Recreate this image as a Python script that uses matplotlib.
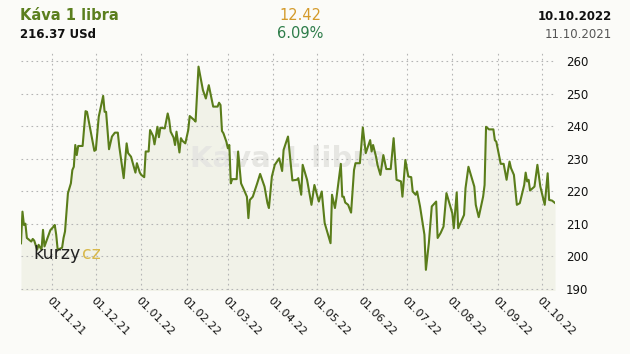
import pandas as pd
import numpy as np
import matplotlib.pyplot as plt
import matplotlib.dates as mdates

# Denní ceny kávy (USd za libru), dny od 11.10.2021
start = pd.Timestamp('2021-10-11')
day = [0, 1, 2, 3, 4, 7, 8, 9, 11, 12, 14, 15, 16, 20, 22, 23, 24, 25, 28, 29,
       30, 32, 34, 35, 36, 37, 38, 39, 42, 44, 45, 50, 51, 53, 56, 57, 58, 60, 62, 64,
       66, 67, 70, 72, 73, 75, 78, 79, 81, 82, 84, 85, 87, 88, 90, 91, 93, 94, 95, 98,
       100, 101, 102, 104, 105, 106, 108, 109, 110, 112, 114, 115, 118, 119, 121, 123, 124, 126, 128, 131,
       134, 135, 136, 137, 138, 140, 141, 142, 143, 144, 147, 148, 150, 152, 154, 155, 156, 158, 161, 163,
       164, 166, 168, 169, 171, 173, 176, 178, 179, 182, 185, 188, 189, 191, 192, 195, 198, 200, 203, 205,
       207, 211, 212, 214, 215, 218, 219, 220, 221, 223, 225, 227, 228, 231, 233, 235, 238, 239, 240, 242,
       243, 245, 247, 249, 252, 254, 256, 259, 260, 262, 264, 266, 267, 269, 270, 272, 275, 276, 278, 280,
       283, 284, 286, 288, 290, 292, 294, 295, 297, 298, 302, 303, 305, 309, 310, 312, 315, 316, 317, 319,
       322, 323, 324, 327, 329, 331, 332, 333, 334, 336, 338, 340, 343, 344, 345, 346, 347, 350, 352, 354,
       357, 359, 360, 362, 364]
price = [203.95, 213.7, 209.6, 210.0, 205.6, 204.5, 205.3, 204.8, 202.0, 203.5, 202.0, 208.1, 203.0, 208.0, 209.0, 209.6, 206.6, 202.0, 202.6, 205.6,
         207.6, 219.4, 222.4, 226.5, 227.5, 234.2, 231.1, 233.9, 233.9, 244.6, 244.4, 232.4, 232.7, 242.9, 249.3, 244.4, 244.4, 232.9, 236.8, 238.0,
         238.0, 233.7, 224.0, 234.7, 231.7, 230.6, 225.7, 228.6, 225.7, 225.0, 224.3, 232.2, 232.2, 238.8, 237.0, 234.4, 239.8, 236.6, 239.5, 239.3,
         243.9, 241.9, 238.3, 236.5, 234.2, 238.3, 231.9, 236.3, 235.5, 234.7, 238.8, 243.1, 241.9, 241.4, 258.3, 253.6, 251.1, 248.5, 252.6, 246.0,
         246.0, 247.2, 246.5, 238.5, 237.8, 235.2, 233.2, 234.2, 222.4, 223.7, 223.7, 232.2, 222.4, 220.4, 218.3, 211.7, 217.3, 218.3, 222.4, 225.3,
         224.0, 221.4, 216.3, 214.8, 224.5, 228.1, 230.1, 226.2, 232.7, 236.8, 223.3, 223.5, 224.0, 218.9, 228.1, 223.5, 215.8, 221.9, 216.8, 219.9,
         210.2, 204.0, 218.9, 214.8, 217.8, 228.4, 218.3, 218.3, 216.5, 215.8, 213.4, 226.5, 228.6, 228.6, 239.6, 231.7, 235.7, 232.2, 234.2, 230.6,
         228.1, 225.0, 231.1, 226.8, 226.8, 236.3, 223.5, 223.0, 218.3, 229.6, 224.5, 224.3, 219.9, 218.9, 219.9, 215.3, 206.6, 195.8, 204.0, 215.3,
         216.8, 205.6, 207.1, 209.1, 219.4, 216.3, 213.2, 208.6, 219.6, 208.6, 212.7, 220.9, 227.5, 221.4, 215.8, 212.0, 218.3, 221.9, 239.8, 239.0,
         239.0, 235.7, 235.2, 228.4, 228.4, 223.5, 226.5, 229.1, 227.1, 225.0, 215.8, 216.3, 221.9, 225.7, 223.0, 223.5, 220.2, 221.4, 228.1, 221.4,
         215.8, 225.5, 217.3, 217.1, 216.37]

tick_dates = ['2021-11-01', '2021-12-01', '2022-01-01', '2022-02-01', '2022-03-01', '2022-04-01',
              '2022-05-01', '2022-06-01', '2022-07-01', '2022-08-01', '2022-09-01', '2022-10-01']
y_ticks = [190, 200, 210, 220, 230, 240, 250, 260]

dates = start + pd.to_timedelta(day, unit='D')

bg = '#fbfbf8'
fig = plt.figure(figsize=(6.3, 3.54), dpi=100, facecolor=bg)
ax = fig.add_axes([21 / 630, 1 - 290 / 354, 534 / 630, 238 / 354])
ax.set_facecolor(bg)

ax.fill_between(dates, price, 185, color='#f1f2e8', lw=0)
ax.plot(dates, price, color='#5a7d1a', lw=1.5, zorder=3)

ax.set_xlim(start, pd.Timestamp('2022-10-10'))
ax.set_ylim(189.6, 262.8)

ax.set_xticks(pd.to_datetime(tick_dates))
ax.xaxis.set_major_formatter(mdates.DateFormatter('%d.%m.%y'))
ax.set_yticks(y_ticks)
ax.yaxis.tick_right()
ax.tick_params(axis='y', length=0, pad=8, labelsize=8.5, colors='#111111')
ax.tick_params(axis='x', length=0, pad=4, labelsize=8, colors='#111111')
for lab in ax.get_xticklabels():
    lab.set_rotation(-45)
    lab.set_ha('left')
    lab.set_va('top')
    lab.set_rotation_mode('anchor')

ax.grid(True, color='#b5b5b5', ls=(0, (1.5, 3)), lw=0.8)
for s in ax.spines.values():
    s.set_visible(False)

# vodoznak a logo
ax.text(0.5, 0.55, 'Káva 1 libra', transform=ax.transAxes, ha='center', va='center',
        fontsize=21, fontweight='bold', color='#e6e6e2', zorder=1)
logo = ax.text(0.0225, 0.15, 'kurzy', transform=ax.transAxes, ha='left', va='center',
               fontsize=12.5, family=['DejaVu Sans'], color='#222222', zorder=4)
ax.annotate('cz', xy=(1, 0.5), xycoords=logo, xytext=(1, 0), textcoords='offset points',
            ha='left', va='center', fontsize=12.5, family=['DejaVu Sans'], color='#d8b84a', zorder=4)

# hlavička
fig.text(20 / 630, 1 - 16 / 354, 'Káva 1 libra', fontsize=10.5, fontweight='bold', color='#5b7f1e', va='center')
fig.text(20 / 630, 1 - 34 / 354, '216.37 USd', fontsize=8.5, fontweight='bold', color='#111111', va='center')
fig.text(300 / 630, 1 - 16 / 354, '12.42', fontsize=10.5, color='#d49a2a', ha='center', va='center')
fig.text(300 / 630, 1 - 34 / 354, '6.09%', fontsize=10.5, color='#2e7d4a', ha='center', va='center')
fig.text(612 / 630, 1 - 16 / 354, '10.10.2022', fontsize=8.5, fontweight='bold', color='#111111', ha='right', va='center')
fig.text(612 / 630, 1 - 34 / 354, '11.10.2021', fontsize=8.5, color='#555555', ha='right', va='center')

plt.savefig('out.png', dpi=100, facecolor=bg)
